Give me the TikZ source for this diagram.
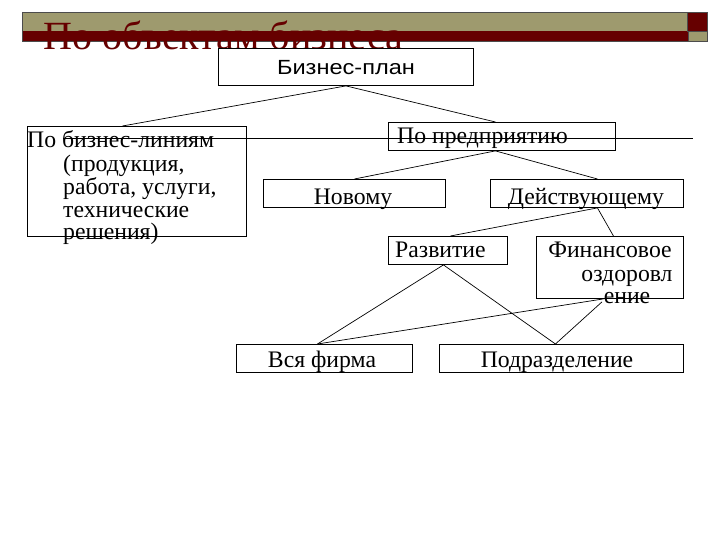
\documentclass[tikz,border=0pt]{standalone}
\usepackage{fontspec}
\setmainfont{Liberation Serif}
\newfontfamily\arialf[FakeStretch=1.15]{Liberation Sans}
\definecolor{olivebar}{RGB}{158,154,110}
\definecolor{darkred}{RGB}{102,0,0}
\tikzset{
  box/.style={draw=black, fill=white, line width=0.9pt, inner sep=0pt, anchor=north west},
  txt/.style={inner sep=0pt, font=\fontsize{23.7}{23.7}\selectfont},
  link/.style={draw=black, line width=0.7pt},
  bar/.style={draw=black!70, line width=0.5pt}
}
\begin{document}
\begin{tikzpicture}[x=1pt,y=-1pt]
\useasboundingbox (0,0) rectangle (720,540);
% title bar
\fill[olivebar] (22,12) rectangle (687,31);
\fill[darkred] (22,31) rectangle (688,41);
\draw[bar] (22,12) -- (687,12);
\draw[bar] (22,41) -- (688,41);
\draw[bar] (22,12) -- (22,41);
\filldraw[fill=darkred, bar] (687,12) rectangle (707,31);
\filldraw[fill=olivebar, bar] (688,31) rectangle (707,41);
\node[anchor=base west, inner sep=0pt, text=darkred, font=\fontsize{40}{40}\selectfont] (title) at (43,50) {По объектам бизнеса};
% boxes
\node[box, minimum width=255pt, minimum height=37pt] (plan) at (218,48) {};
\node[box, minimum width=219pt, minimum height=110pt] (lines) at (27,126) {};
\node[box, minimum width=227pt, minimum height=28pt] (ent) at (388,122) {};
\node[box, minimum width=182pt, minimum height=28pt] (nov) at (263,179) {};
\node[box, minimum width=193pt, minimum height=28pt] (act) at (490,179) {};
\node[box, minimum width=119pt, minimum height=28pt] (dev) at (388,236) {};
\node[box, minimum width=147pt, minimum height=62pt] (fin) at (536,236) {};
\node[box, minimum width=176pt, minimum height=28pt] (all) at (236,344) {};
\node[box, minimum width=244pt, minimum height=28pt] (sub) at (439,344) {};
% texts
\node[anchor=base, inner sep=0pt, font=\arialf\fontsize{20.5}{20.5}\selectfont] (tplan) at (346,75) {Бизнес-план};
\node[txt, anchor=base west] (tl1) at (27,148) {По бизнес-линиям};
\node[txt, anchor=base west] (tl2) at (63,172) {(продукция,};
\node[txt, anchor=base west] (tl3) at (63,195) {работа, услуги,};
\node[txt, anchor=base west] (tl4) at (63,218) {технические};
\node[txt, anchor=base west] (tl5) at (63,240) {решения)};
\node[txt, anchor=base west] (tent) at (397,144) {По предприятию};
\node[txt, anchor=base] (tnov) at (353,205) {Новому};
\node[txt, anchor=base] (tact) at (586,205) {Действующему};
\node[txt, anchor=base west] (tdev) at (395,258) {Развитие};
\node[txt, anchor=base] (tf1) at (610,257) {Финансовое};
\node[txt, anchor=base] (tf2) at (627,281) {оздоровл};
\node[txt, anchor=base] (tf3) at (627,303) {ение};
\node[txt, anchor=base] (tall) at (322,367) {Вся фирма};
\node[txt, anchor=base] (tsub) at (557,367) {Подразделение};
% long horizontal line
\coordinate (hl1) at (63,138);
\coordinate (hl2) at (693,138);
\draw[link] (hl1) -- (hl2);
% connectors
\draw[link] (plan.south) -- ([xshift=-14.5pt]lines.north);
\draw[link] (plan.south) -- ([xshift=-6.5pt]ent.north);
\draw[link] ([xshift=-6.5pt]ent.south) -- (nov.north);
\draw[link] ([xshift=-6.5pt]ent.south) -- ([xshift=10.5pt]act.north);
\draw[link] ([xshift=10.5pt]act.south) -- ([xshift=2.5pt]dev.north);
\draw[link] ([xshift=10.5pt]act.south) -- ([xshift=3.5pt]fin.north);
\draw[link] ([xshift=-4.5pt]dev.south) -- ([xshift=-7pt]all.north);
\draw[link] ([xshift=-4.5pt]dev.south) -- ([xshift=-6pt]sub.north);
\draw[link] ([xshift=-6.5pt]fin.south) -- ([xshift=-7pt]all.north);
\draw[link] ([xshift=-8pt,yshift=-3pt]fin.south) -- ([xshift=-6pt]sub.north);
\end{tikzpicture}
\end{document}
